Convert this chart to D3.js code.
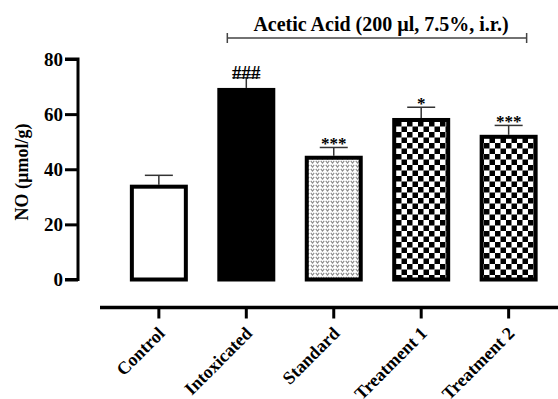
<!DOCTYPE html>
<html><head><meta charset="utf-8">
<script src="https://cdn.jsdelivr.net/npm/d3@7"></script>
<style>body{margin:0;background:#fff}svg{display:block}text{font-family:"Liberation Serif","Times New Roman",serif;font-weight:bold}</style>
</head><body><svg id="c" width="558" height="399"></svg>
<script>
const categories = ["Control","Intoxicated","Standard","Treatment 1","Treatment 2"];
const values = [34.4, 69.5, 44.9, 58.6, 52.5];
const errors = [3.4, 3.7, 3.0, 3.9, 3.4];
const marks = ["", "###", "***", "*", "***"];
const yTicks = [0,20,40,60,80];
const yLabel = "NO (µmol/g)";
const bracketLabel = "Acetic Acid (200 µl, 7.5%, i.r.)";
const bracketGroups = ["Intoxicated","Treatment 2"];

const svg = d3.select("#c");
const defs = svg.append("defs");
// checkerboard
const chk = defs.append("pattern").attr("id","chk").attr("patternUnits","userSpaceOnUse").attr("width",11).attr("height",11);
chk.append("rect").attr("width",11).attr("height",11).attr("fill","#fff");
chk.append("rect").attr("width",5.5).attr("height",5.5).attr("fill","#000");
chk.append("rect").attr("x",5.5).attr("y",5.5).attr("width",5.5).attr("height",5.5).attr("fill","#000");
// dotted v pattern
const dv = defs.append("pattern").attr("id","dv").attr("patternUnits","userSpaceOnUse").attr("width",5).attr("height",4);
dv.append("rect").attr("width",5).attr("height",4).attr("fill","#fff");
dv.append("path").attr("d","M0.8,0.8 L2.5,3 L4.2,0.8").attr("fill","none").attr("stroke","#888").attr("stroke-width",1.1);
const fills = ["#fff","#000","url(#dv)","url(#chk)","url(#chk)"];

const y = d3.scaleLinear().domain([0,80]).range([279.5,59]);
const x = d3.scaleBand().domain(categories).range([115,552.5]).paddingInner(0.337).paddingOuter(0.17);

// y axis
const ya = svg.append("g").attr("transform","translate(78,0)")
  .call(d3.axisLeft(y).tickValues(yTicks).tickSize(13).tickPadding(2));
ya.select(".domain").attr("stroke","#000").attr("stroke-width",3).attr("d","M-13,"+y(80)+"H0V"+y(0)+"H-13");
ya.selectAll(".tick line").attr("stroke","#000").attr("stroke-width",3);
ya.selectAll(".tick text").attr("font-size",19).attr("fill","#000").attr("font-family","Liberation Serif").attr("font-weight","bold").attr("dy","0.34em");

svg.append("text").attr("transform","translate(28,172) rotate(-90)").attr("text-anchor","middle")
  .attr("font-size",18).text(yLabel);

// bars
const g = svg.append("g");
categories.forEach((c,i)=>{
  const bx = x(c), bw = x.bandwidth();
  const cx = bx + bw/2;
  const ty = y(values[i]+errors[i]);
  g.append("line").attr("x1",cx).attr("x2",cx).attr("y1",y(values[i])).attr("y2",ty).attr("stroke","#333").attr("stroke-width",1.5);
  g.append("line").attr("x1",cx-14).attr("x2",cx+14).attr("y1",ty).attr("y2",ty).attr("stroke","#333").attr("stroke-width",1.5);
  g.append("rect").attr("x",bx+2).attr("y",y(values[i])+2).attr("width",bw-4).attr("height",y(0)-y(values[i])-2)
    .attr("fill",fills[i]).attr("stroke","#000").attr("stroke-width",4);
  if(marks[i]){
    const hash = marks[i][0]==="#";
    g.append("text").attr("x",cx).attr("y",ty + (hash?1:2)).attr("text-anchor","middle")
      .attr("font-size", hash?19:17).text(marks[i]);
  }
});

// x axis
const xa = svg.append("g").attr("transform","translate(0,307.5)")
  .call(d3.axisBottom(x).tickSize(11).tickSizeOuter(0));
xa.select(".domain").attr("stroke","#000").attr("stroke-width",3.5).attr("d","M100,0H558");
xa.selectAll(".tick line").attr("stroke","#000").attr("stroke-width",3);
xa.selectAll(".tick text").attr("font-size",18).attr("fill","#000").attr("font-family","Liberation Serif").attr("font-weight","bold")
  .attr("text-anchor","end").attr("y",0).attr("dy",0).attr("transform","translate(7,27) rotate(-45)");

// bracket
const bx1 = x(bracketGroups[0]) + 10, bx2 = x(bracketGroups[1]) + x.bandwidth() - 11;
const by = 38;
svg.append("path").attr("d",`M${bx1},${by-5}V${by+5}M${bx1},${by}H${bx2}M${bx2},${by-5}V${by+5}`).attr("stroke","#444").attr("stroke-width",1.5).attr("fill","none");
svg.append("text").attr("x",(bx1+bx2)/2+4).attr("y",31).attr("text-anchor","middle").attr("font-size",20).text(bracketLabel);
</script></body></html>
